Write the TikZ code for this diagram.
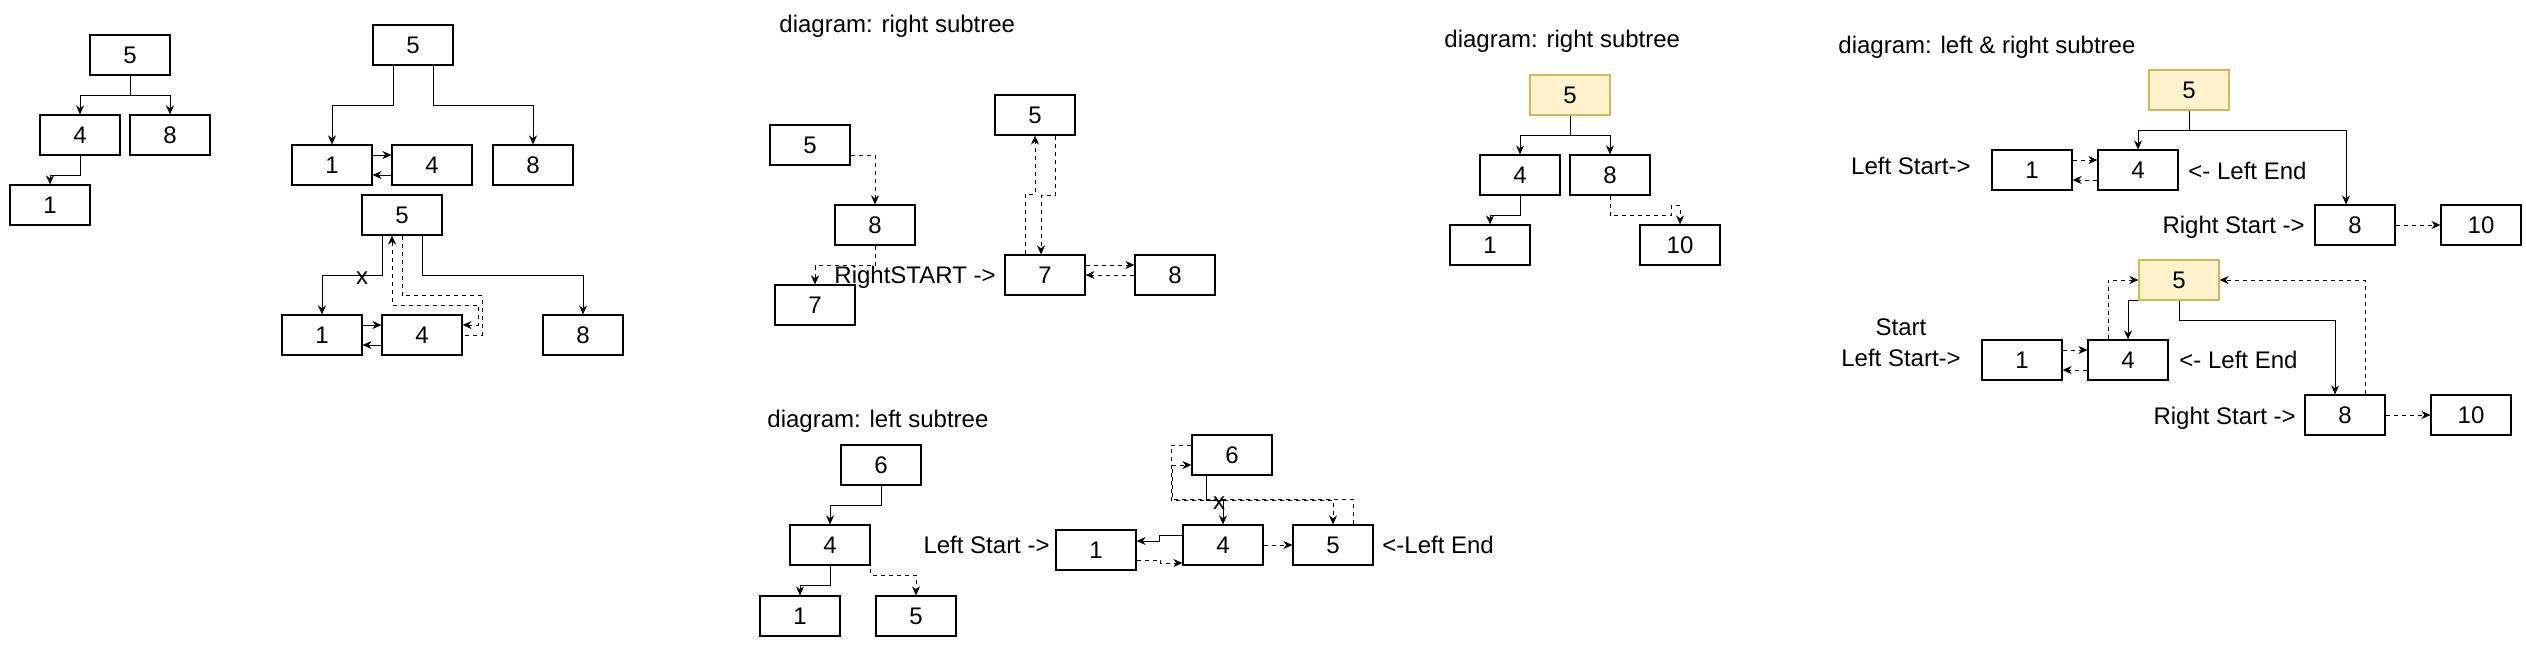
\documentclass[tikz,border=0pt]{standalone}
\usepackage{fontspec}
\setmainfont{Liberation Sans}
\usetikzlibrary{arrows.meta}
\definecolor{rootfill}{HTML}{FFF2CC}
\definecolor{rootdraw}{HTML}{D6B656}

\begin{document}
\begin{tikzpicture}[x=0.5pt, y=-0.5pt,
		>={Stealth[length=4.5pt,width=4pt]},
		font=\fontsize{12}{14}\selectfont,
		box/.style={draw, line width=0.6pt, minimum width=40pt, minimum height=20pt, inner sep=0pt},
		root/.style={box, fill=rootfill, draw=rootdraw},
		link/.style={->, line width=0.5pt},
		dlink/.style={link, dash pattern=on 2pt off 2pt},
		note/.style={inner sep=0pt}]
			\useasboundingbox (0,0) rectangle (2526,647);

			% plain tree
			\node[box] (a5) at (130,55) {5};
			\node[box] (a4) at (80,135) {4};
			\node[box] (a8) at (170,135) {8};
			\node[box] (a1) at (50,205) {1};
			\draw[link] (a5.south) -- ++(0,20) -| (a4.north);
			\draw[link] (a5.south) -- ++(0,20) -| (a8.north);
			\draw[link] (a4.south) -- ++(0,20) -| (a1.north);

			% tree with linked left side
			\node[box] (b5) at (413,45) {5};
			\node[box] (b1) at (332,165) {1};
			\node[box] (b4) at (432,165) {4};
			\node[box] (b8) at (533,165) {8};
			\draw[link] ([xshift=-10pt]b5.south) -- ++(0,40) -| (b1.north);
			\draw[link] ([xshift=10pt]b5.south) -- ++(0,40) -| (b8.north);
			\draw[link] ([yshift=5pt]b1.east) -- ([yshift=5pt]b4.west);
			\draw[link] ([yshift=-5pt]b4.west) -- ([yshift=-5pt]b1.east);

			\node[box] (c5) at (402,215) {5};
			\node[box] (c1) at (322,335) {1};
			\node[box] (c4) at (422,335) {4};
			\node[box] (c8) at (583,335) {8};
			\draw[link] ([xshift=-10pt]c5.south) -- ++(0,40) -| (c1.north);
			\node (cx) at (362,278) {x};
			\draw[link] ([xshift=10pt]c5.south) -- ++(0,40) -| (c8.north);
			\draw[link] ([yshift=5pt]c1.east) -- ([yshift=5pt]c4.west);
			\draw[link] ([yshift=-5pt]c4.west) -- ([yshift=-5pt]c1.east);
			\draw[dlink, -] (c5.south) -- ++(0,60) -- ++(80,0) |- (c4.east);
			\draw[dlink, <->] ([yshift=5pt]c4.east) -- ++(16,0) -- ++(0,-20) -| ([xshift=-5pt]c5.south);

			% right subtree
			\node[note, anchor=base west] (t2) at (779,33) {diagram: right subtree};
			\node[box] (d5) at (810,145) {5};
			\node[box] (d8) at (875,225) {8};
			\node[box] (d7) at (815,305) {7};
			\draw[dlink] ([yshift=-5pt]d5.east) -| (d8.north);
			\draw[dlink] (d8.south) -- ++(0,20) -| (d7.north);
			\node[note, anchor=base east] (rs) at (996,283) {RightSTART ->};

			\node[box] (e5) at (1035,115) {5};
			\node[box] (e7) at (1045,275) {7};
			\node[box] (e8) at (1175,275) {8};
			\draw[dlink] ([xshift=-10pt]e7.north) -- ++(0,-60) -| (e5.south);
			\draw[dlink] ([xshift=10pt]e5.south) -- ++(0,60) -| ([xshift=-2pt]e7.north);
			\draw[dlink] ([yshift=5pt]e7.east) -- ([yshift=5pt]e8.west);
			\draw[dlink] (e8.west) -- (e7.east);

			% left subtree
			\node[note, anchor=base west] (t3) at (767,427) {diagram: left subtree};
			\node[box] (f6) at (881,465) {6};
			\node[box] (f4) at (830,545) {4};
			\node[box] (f1) at (800,616) {1};
			\node[box] (f5) at (916,616) {5};
			\draw[link] (f6.south) -- ++(0,20) -| (f4.north);
			\draw[link] (f4.south) -- ++(0,20) -| (f1.north);
			\draw[dlink] (f4.east) -- ++(0,30) -| (f5.north);

			\node[box] (g6) at (1232,455) {6};
			\node[box] (g1) at (1096,550) {1};
			\node[box] (g4) at (1223,545) {4};
			\node[box] (g5) at (1333,545) {5};
			\node[note, anchor=base east] (gs) at (1050,553) {Left Start ->};
			\node[note, anchor=base west] (ge) at (1382,553) {<-Left End};
			\draw[link] ([xshift=-13pt]g6.south) -- ++(0,25) -| (g4.north);
			\node (gx) at (1219,503) {x};
			\draw[link] ([yshift=5pt]g4.west) -- ++(-23,0) |- ([yshift=4.5pt]g1.east);
			\draw[dlink] ([yshift=-5pt]g1.east) -- ++(24,0) |- ([yshift=-9pt]g4.west);
			\draw[dlink] (g4.east) -- (g5.west);
			\draw[dlink] ([yshift=5pt]g6.west) -- ++(-20,0) -- ++(0,55) -| (g5.north);
			\draw[dlink] ([xshift=10pt]g5.north) -- ++(0,-25) -- ++(-181,0) |- ([yshift=-5pt]g6.west);

			% right subtree, root marked
			\node[note, anchor=base west] (t4) at (1444,48) {diagram: right subtree};
			\node[root] (h5) at (1570,95) {5};
			\node[box] (h4) at (1520,175) {4};
			\node[box] (h8) at (1610,175) {8};
			\node[box] (h1) at (1490,245) {1};
			\node[box] (h10) at (1680,245) {10};
			\draw[link] (h5.south) -- ++(0,20) -| (h4.north);
			\draw[link] (h5.south) -- ++(0,20) -| (h8.north);
			\draw[link] (h4.south) -- ++(0,20) -| (h1.north);
			\draw[dlink] (h8.south) -- ++(0,20) -- ++(61,0) -- ++(0,-10) -| (h10.north);

			% left & right subtree
			\node[note, anchor=base west] (t5) at (1838,54) {diagram: left \& right subtree};
			\node[root] (i5) at (2189,90) {5};
			\node[box] (i1) at (2032,170) {1};
			\node[box] (i4) at (2138,170) {4};
			\node[box] (i8) at (2355,225) {8};
			\node[box] (i10) at (2481,225) {10};
			\node[note, anchor=base east] (is) at (1971,174) {Left Start->};
			\node[note, anchor=base west] (ie) at (2188,179) {<- Left End};
			\node[note, anchor=base east] (ir) at (2305,233) {Right Start ->};
			\draw[link] (i5.south) -- ++(0,20) -| (i4.north);
			\draw[link] (i5.south) -- ++(0,20) -| ([xshift=-4.5pt]i8.north);
			\draw[dlink] ([yshift=5pt]i1.east) -- ([yshift=5pt]i4.west);
			\draw[dlink] ([yshift=-5pt]i4.west) -- ([yshift=-5pt]i1.east);
			\draw[dlink] (i8.east) -- (i10.west);

			\node[root] (j5) at (2179,280) {5};
			\node[box] (j1) at (2022,360) {1};
			\node[box] (j4) at (2128,360) {4};
			\node[box] (j8) at (2345,415) {8};
			\node[box] (j10) at (2471,415) {10};
			\node[note, align=center, font=\fontsize{12}{15.5}\selectfont] (js) at (1901,343) {Start\\Left Start->};
			\node[note, anchor=base west] (je) at (2179,368) {<- Left End};
			\node[note, anchor=base east] (jr) at (2296,424) {Right Start ->};
			\draw[link] (j5.south west) -| (j4.north);
			\draw[link] (j5.south) -- ++(0,20) -| ([xshift=-5pt]j8.north);
			\draw[dlink] ([xshift=-10pt]j4.north) |- (j5.west);
			\draw[dlink] ([xshift=10pt]j8.north) |- (j5.east);
			\draw[dlink] ([yshift=5pt]j1.east) -- ([yshift=5pt]j4.west);
			\draw[dlink] ([yshift=-5pt]j4.west) -- ([yshift=-5pt]j1.east);
			\draw[dlink] (j8.east) -- (j10.west);
		\end{tikzpicture}
\end{document}
